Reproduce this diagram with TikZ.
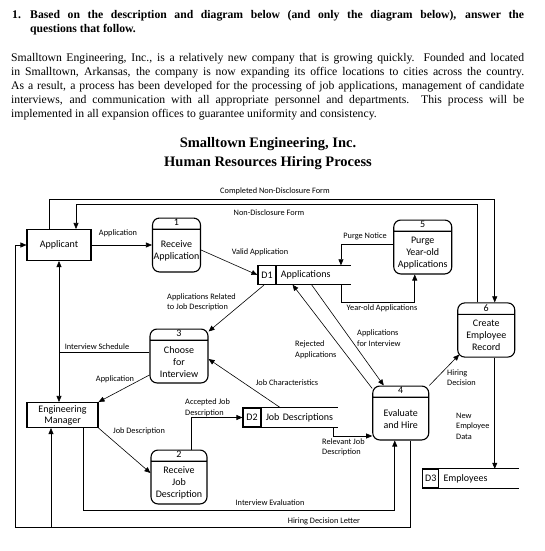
\documentclass[tikz,border=0pt]{standalone}
\usepackage{fontspec}
\setmainfont{Liberation Serif}
\newfontfamily\dfd{Carlito}
\usetikzlibrary{positioning,shapes.multipart,arrows.meta}
\newcommand{\pbody}[2][52pt]{\parbox[c][40pt][c]{#1}{\centering #2}}

\begin{document}
\begin{tikzpicture}[
    x=1pt, y=-1pt,
    node distance=60pt,
    entity/.style={rectangle, draw, line width=1.1pt, minimum width=64pt, minimum height=31pt, align=center, font=\dfd\fontsize{10}{11}\selectfont},
    proc/.style={rectangle split, rectangle split parts=2, draw, line width=1.1pt, rounded corners=7pt, minimum width=56pt, inner xsep=1pt, inner ysep=0.8pt, execute at begin node={\rule[-2pt]{0pt}{8.5pt}}, font=\dfd\fontsize{10}{12}\selectfont},
    storeid/.style={rectangle, draw, line width=1.1pt, minimum width=18pt, minimum height=19pt, inner sep=1pt, font=\dfd\fontsize{10}{12}\selectfont},
    storename/.style={rectangle, minimum height=19pt, inner xsep=4pt, inner ysep=0pt, align=left, font=\dfd\fontsize{10}{12}\selectfont},
    storeline/.style={line width=1.1pt},
    flow/.style={-{Triangle[length=6pt,width=5pt]}, line width=0.6pt},
    lbl/.style={inner sep=0pt, align=left, font=\dfd\fontsize{8.3}{10.5}\selectfont}
]
    \useasboundingbox (0,0) rectangle (544,551);
    % Question and description
    \node[anchor=north west, inner sep=0pt, font=\bfseries\fontsize{11.7}{14}\selectfont] (qnum) at (12,10.5) {1.};
    \node[anchor=north west, inner sep=0pt, text width=494pt, align=justify, font=\bfseries\fontsize{11.7}{14}\selectfont] (qtext) at (30,10.5) {Based on the description and diagram below (and only the diagram below), answer the\linebreak questions that follow.};
    \node[anchor=north west, inner sep=0pt, text width=513pt, align=justify, font=\fontsize{11.7}{14}\selectfont] (intro) at (11,53.5) {Smalltown Engineering, Inc., is a relatively new company that is growing quickly.\ \ Founded and located\linebreak in Smalltown, Arkansas, the company is now expanding its office locations to cities across the country.\linebreak As a result, a process has been developed for the processing of job applications, management of candidate\linebreak interviews, and communication with all appropriate personnel and departments.\ \ This process will be\linebreak implemented in all expansion offices to guarantee uniformity and consistency.};
    \node[anchor=north, inner sep=0pt, align=center, font=\bfseries\fontsize{14.5}{19}\selectfont] (title) at (268,137) {Smalltown Engineering, Inc.\\Human Resources Hiring Process};
    % External entities
    \node[entity] (app) at (59,245) {Applicant};
    \node[entity, below of=app, xshift=3.5pt, yshift=-110pt, minimum width=71pt, minimum height=25pt, inner ysep=0.5pt] (em) {Engineering\\Manager};
    % Processes
    \node[proc, right of=app, xshift=57.5pt, minimum width=47pt] (p1) {1\nodepart{two}\pbody[46pt]{Receive\\Application}};
    \node[proc, below of=p1, xshift=2.5pt, yshift=-51pt] (p3) {3\nodepart{two}\pbody[56pt]{Choose\\for\\Interview}};
    \node[proc, below of=p3, yshift=-61pt] (p2) {2\nodepart{two}\pbody[54pt]{Receive\\Job\\Description}};
    % Data stores
    \node[storeid, right of=p1, xshift=30.5pt, yshift=-30pt] (d1) {D1};
    \node[storename, right=0pt of d1, text width=66pt] (d1n) {Applications};
    \node[storeid, right of=p3, xshift=13pt, yshift=-61.5pt] (d2) {D2};
    \node[storename, right=0pt of d2, text width=68pt] (d2n) {Job Descriptions};
    \node[proc, right of=d1n, xshift=49pt, yshift=28pt] (p5) {5\nodepart{two}\pbody[56pt]{Purge\\Year-old\\Applications}};
    \node[proc, right of=p5, xshift=3.5pt, yshift=-83pt] (p6) {6\nodepart{two}\pbody[55pt]{Create\\Employee\\Record}};
    \node[proc, below of=p6, xshift=-85.5pt, yshift=-23pt] (p4) {4\nodepart{two}\pbody[54pt]{Evaluate\\and Hire}};
    \node[storeid, below of=p4, xshift=30pt, yshift=-5.5pt, minimum width=16pt] (d3) {D3};
    \node[storename, right=0pt of d3, text width=71pt] (d3n) {Employees};
    \draw[storeline] (d1n.north west) -- (d1n.north east) (d1n.south west) -- (d1n.south east);
    \draw[storeline] (d2n.north west) -- (d2n.north east) (d2n.south west) -- (d2n.south east);
    \draw[storeline] (d3n.north west) -- (d3n.north east) (d3n.south west) -- (d3n.south east);
    % Bends
    \coordinate (cnd) at (49,199);
    \coordinate (ndf) at (76,204);
    \coordinate (hdl) at (15,527);
    \coordinate (isch) at ([yshift=4pt]p3.west);
    \coordinate (emx) at ([xshift=-11.5pt]em.south);
    \coordinate (p6d) at ([xshift=8.5pt]p6.south);
    % Flows
    \draw[flow] (cnd |- app.north) -- (cnd) -| ([xshift=8.5pt]p6.north);
    \draw[flow] ([xshift=-8.5pt]p6.north) |- (ndf) -- (ndf |- app.north);
    \draw[flow] (app) -- (p1);
    \draw[flow] ([yshift=-5pt]p1.east) -- (d1.west);
    \draw[flow] ([yshift=3pt]p5.west) -| ([xshift=-10pt]d1n.north east);
    \draw[flow] ([xshift=-10pt]d1n.south east) -- ++(0,18) -| ([xshift=-8pt]p5.south);
    \draw[flow] ([xshift=-3pt]d1.south) -- ([yshift=-3pt]p3.north east);
    \draw[flow] ([yshift=-3pt]p4.north west) -- ([xshift=16pt]d1n.south west);
    \draw[flow] ([xshift=35pt]d1n.south west) -- ([xshift=-17pt]p4.north);
    \draw[line width=0.6pt] (isch) -- (isch -| app.south);
    \draw[flow, {Triangle[length=6pt,width=5pt]}-{Triangle[length=6pt,width=5pt]}] (app.south) -- (app.south |- em.north);
    \draw[flow] ([yshift=-19pt]p3.west) -- (em.north east);
    \draw[flow] ([xshift=19pt]d2n.north west) -- ([yshift=-3pt]p3.east);
    \draw[flow] ([xshift=12pt]p2.north) |- (d2.west);
    \draw[flow] (em.south east) -- ([yshift=4pt]p2.west);
    \draw[flow] ([xshift=-5pt]d2n.south east) |- ([yshift=-23pt]p4.west);
    \draw[flow] ([xshift=20.5pt]em.south) -- ++(0,82) -| ([xshift=-6pt]p4.south);
    \draw[flow] ([xshift=10pt]p4.south) |- (hdl) |- (app.west);
    \draw[flow] (emx |- hdl) -- (emx);
    \draw[flow] (p4.north east) -- ([xshift=2pt,yshift=3pt]p6.south west);
    \draw[flow] (p6d) -- (p6d |- d3n.north);
    % Flow labels
    \node[lbl] (lcnd) at (275,191) {Completed Non-Disclosure Form};
    \node[lbl] (lndf) at (269,213) {Non-Disclosure Form};
    \node[lbl] (lapp1) at (118,233) {Application};
    \node[lbl] (lvalid) at (260,252) {Valid Application};
    \node[lbl] (lpurge) at (365,236) {Purge Notice};
    \node[lbl] (lyear) at (382,308) {Year-old Applications};
    \node[lbl, anchor=west] (lrel) at (167,302.5) {Applications Related\\to Job Description};
    \node[lbl] (lsched) at (97,347) {Interview Schedule};
    \node[lbl, anchor=west] (lrej) at (295,350) {Rejected\\Applications};
    \node[lbl, anchor=west] (lint) at (357,338) {Applications\\for Interview};
    \node[lbl] (lapp2) at (115,379) {Application};
    \node[lbl] (lchar) at (287,383) {Job Characteristics};
    \node[lbl, anchor=west] (lacc) at (185,408) {Accepted Job\\Description};
    \node[lbl] (ljob) at (139,431) {Job Description};
    \node[lbl, anchor=west] (lrelev) at (322,447.5) {Relevant Job\\Description};
    \node[lbl] (leval) at (270,503) {Interview Evaluation};
    \node[lbl] (lletter) at (324,521) {Hiring Decision Letter};
    \node[lbl, anchor=west] (lhire) at (447,377.5) {Hiring\\Decision};
    \node[lbl, anchor=west] (lnew) at (456,426) {New\\Employee\\Data};
\end{tikzpicture}
\end{document}
